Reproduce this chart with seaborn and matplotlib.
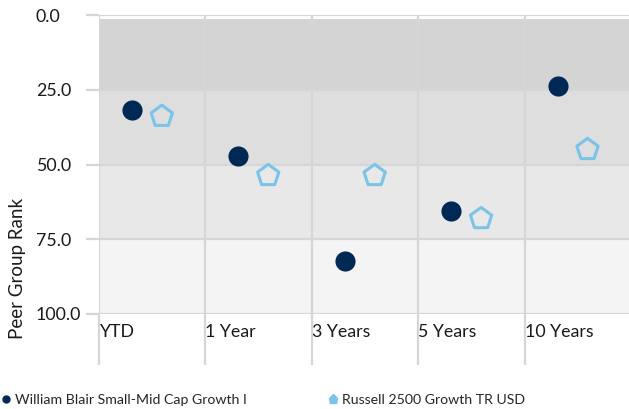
import matplotlib
matplotlib.use("Agg")
import matplotlib.pyplot as plt
from matplotlib.lines import Line2D
import seaborn as sns
import pandas as pd

# Trailing-period peer group ranks (lower rank = better, axis inverted)
periods = ["YTD", "1 Year", "3 Years", "5 Years", "10 Years"]
fund_name = "William Blair Small-Mid Cap Growth I"
bench_name = "Russell 2500 Growth TR USD"
fund_rank = [31.9, 47.3, 82.2, 65.4, 23.8]
bench_rank = [33.9, 53.7, 53.7, 68.1, 45.0]
y_ticks = [0, 25, 50, 75, 100]

navy = "#002855"
sky = "#7cc3ea"
grid_col = "#d6d6d6"
band_cols = ["#d4d4d4", "#dedede", "#e8e8e8", "#f4f4f4"]

sns.set_theme(style="white")
plt.rcParams["font.family"] = ["Lato", "DejaVu Sans"]

df = pd.DataFrame({
    "period": periods * 2,
    "slot": list(range(len(periods))) * 2,
    "rank": fund_rank + bench_rank,
    "series": [fund_name] * len(periods) + [bench_name] * len(periods),
})
# each series sits at its own offset inside the period's column
offsets = {fund_name: 0.31, bench_name: 0.59}
df["x"] = df["slot"] + df["series"].map(offsets)

fig = plt.figure(figsize=(6.29, 4.09), dpi=100)
ax = fig.add_axes([99 / 629, 1 - 314 / 409, 530 / 629, 299 / 409])

# quartile bands
band_edges = [1.3, 25, 50, 75, 100]
for lo, hi, c in zip(band_edges[:-1], band_edges[1:], band_cols):
    ax.axhspan(lo, hi, color=c, lw=0, zorder=0)

sns.scatterplot(data=df[df["series"] == fund_name], x="x", y="rank",
                color=navy, s=210, marker="o", edgecolor=navy,
                linewidth=0, ax=ax, zorder=3, legend=False)
sns.scatterplot(data=df[df["series"] == bench_name], x="x", y="rank",
                facecolor="none", edgecolor=sky, s=260, marker="p",
                linewidth=2.2, ax=ax, zorder=3, legend=False)

ax.set_xlim(0, 4.98)
ax.set_ylim(100, 0)
ax.set_xticks(range(len(periods)))
ax.set_xticklabels(periods, ha="left")
ax.set_yticks(y_ticks)
ax.set_yticklabels([f"{v:.1f}" for v in y_ticks], ha="left")

for s in ax.spines.values():
    s.set_visible(False)
ax.grid(True, color=grid_col, lw=1.6, zorder=1)
for gl in ax.get_xgridlines() + ax.get_ygridlines():
    gl.set_zorder(1)

ax.tick_params(axis="x", length=37, width=1.6, color=grid_col, direction="out",
               pad=-30, labelsize=12.8, labelcolor="#1a1a1a", bottom=True)
ax.tick_params(axis="y", length=9.5, width=1.6, color=grid_col, direction="out",
               pad=36, labelsize=12.8, labelcolor="#1a1a1a", left=True)

ax.set_xlabel("")
ax.set_ylabel("")
fig.text(18 / 629, 1 - 268 / 409, "Peer Group Rank", rotation=90,
         ha="center", va="center", fontsize=13.5, color="#1a1a1a")

handles = [
    Line2D([], [], ls="none", marker="o", color=navy, markersize=5),
    Line2D([], [], ls="none", marker="p", color=sky, markersize=6.5),
]
fig.legend(handles, [fund_name, bench_name], loc="center left",
           bbox_to_anchor=(2 / 629, 1 - 400 / 409), ncol=2, frameon=False,
           fontsize=10.2, handlelength=0.6, handletextpad=0.3,
           columnspacing=5.8, borderpad=0, borderaxespad=0)

fig.savefig("out.png", dpi=100)
